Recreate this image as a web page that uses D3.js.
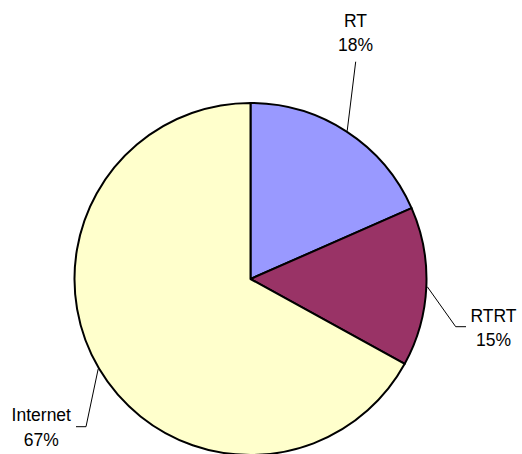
<!DOCTYPE html>
<html>
<head>
<meta charset="utf-8">
<script src="https://cdn.jsdelivr.net/npm/d3@7"></script>
<style>
  html, body { margin: 0; padding: 0; background: #fff; }
  svg { display: block; }
  text { font-family: Arial, "Liberation Sans", sans-serif; font-size: 17.5px; fill: #000; }
</style>
</head>
<body>
<svg id="chart" width="522" height="454"></svg>
<script>
// Share of traffic by category (percent)
const categories = ["RT", "RTRT", "Internet"];
const shares = [18.4, 14.6, 67.0];
const colors = ["#9999FF", "#993366", "#FFFFCC"];

// Label placement: centre x, first baseline y, and where the leader line bends
const labelPos = [
  { x: 355.5, y: 26.7, bend: null, end: [355.7, 61.7] },
  { x: 493.5, y: 321.7, bend: [455.7, 326.7], end: [466, 326.7] },
  { x: 41.3, y: 421, bend: [86, 426.7], end: [76, 426.7] }
];

const width = 522, height = 454;
const cx = 250.5, cy = 279, radius = 176;

const svg = d3.select("#chart");
const g = svg.append("g").attr("transform", `translate(${cx},${cy})`);

const data = categories.map((c, i) => ({ name: c, value: shares[i], color: colors[i], label: labelPos[i] }));

const pie = d3.pie().value(d => d.value).sort(null);
const arcs = pie(data);
const arc = d3.arc().innerRadius(0).outerRadius(radius);

g.selectAll("path.slice")
  .data(arcs)
  .join("path")
  .attr("class", "slice")
  .attr("d", arc)
  .attr("fill", d => d.data.color)
  .attr("stroke", "#000")
  .attr("stroke-width", 2)
  .attr("stroke-linejoin", "round");

const total = d3.sum(shares);
const pct = d3.format(".0f");

// Leader lines from slice mid-angle on the rim to the label
const pointAt = (angle, r) => [cx + r * Math.sin(angle), cy - r * Math.cos(angle)];
arcs.forEach(a => {
  const mid = (a.startAngle + a.endAngle) / 2;
  const start = pointAt(mid, radius + 1);
  const L = a.data.label;
  const pts = [start];
  if (L.bend) pts.push(L.bend);
  pts.push(L.end);
  svg.append("path")
    .attr("d", d3.line()(pts))
    .attr("fill", "none")
    .attr("stroke", "#000")
    .attr("stroke-width", 1);

  const t = svg.append("text").attr("text-anchor", "middle");
  t.append("tspan").attr("x", L.x).attr("y", L.y).text(a.data.name);
  t.append("tspan").attr("x", L.x).attr("y", L.y + 24.5)
    .text(pct(a.data.value / total * 100) + "%");
});
</script>
</body>
</html>
